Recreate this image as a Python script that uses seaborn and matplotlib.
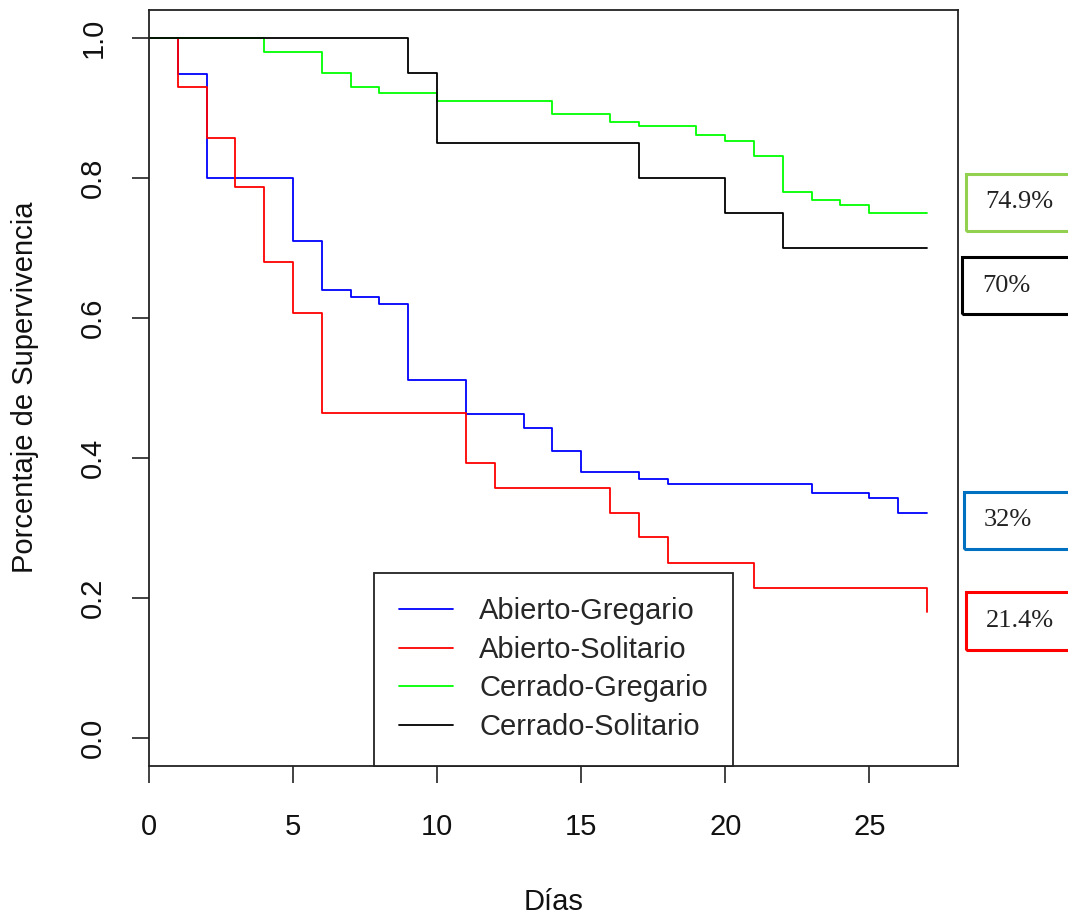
import matplotlib
matplotlib.use('Agg')
import matplotlib.pyplot as plt
from matplotlib.lines import Line2D
from matplotlib.patches import Rectangle
import seaborn as sns
import pandas as pd

# ---------------- data ----------------
grupos = ['Abierto-Gregario', 'Abierto-Solitario', 'Cerrado-Gregario', 'Cerrado-Solitario']
colores = ['#0000FF', '#FF0000', '#00FF00', '#000000']

ag_dias = [0, 1, 2, 5, 6, 7, 8, 9, 11, 13, 14, 15, 17, 18, 23, 25, 26, 27]
ag_surv = [1.0, 0.948, 0.800, 0.710, 0.639, 0.630, 0.619, 0.511, 0.462, 0.442,
           0.410, 0.380, 0.369, 0.362, 0.350, 0.342, 0.321, 0.321]

as_dias = [0, 1, 2, 3, 4, 5, 6, 11, 12, 16, 17, 18, 21, 27]
as_surv = [1.0, 0.929, 0.857, 0.786, 0.679, 0.607, 0.464, 0.393, 0.357, 0.321,
           0.286, 0.250, 0.214, 0.180]

cg_dias = [0, 4, 6, 7, 8, 10, 14, 16, 17, 19, 20, 21, 22, 23, 24, 25, 27]
cg_surv = [1.0, 0.980, 0.949, 0.930, 0.921, 0.910, 0.891, 0.879, 0.873, 0.861,
           0.852, 0.831, 0.779, 0.768, 0.761, 0.749, 0.749]

cs_dias = [0, 9, 10, 17, 20, 22, 27]
cs_surv = [1.0, 0.95, 0.85, 0.80, 0.75, 0.70, 0.70]

x_ticks = [0, 5, 10, 15, 20, 25]
y_ticks = [0.0, 0.2, 0.4, 0.6, 0.8, 1.0]
y_tick_labels = ['0.0', '0.2', '0.4', '0.6', '0.8', '1.0']

etiquetas = ['74.9%', '70%', '32%', '21.4%']
etiqueta_colores = ['#92D050', '#000000', '#0070C0', '#FF0000']

# ---------------- table ----------------
rows = []
for g, d, s in zip(grupos, [ag_dias, as_dias, cg_dias, cs_dias],
                   [ag_surv, as_surv, cg_surv, cs_surv]):
    for x, y in zip(d, s):
        rows.append((g, x, y))
df = pd.DataFrame(rows, columns=['grupo', 'dia', 'surv'])

sns.set_style('white')
plt.rcParams['font.family'] = ['Liberation Sans', 'DejaVu Sans']

W, H = 1068, 917
fig = plt.figure(figsize=(W / 100, H / 100), dpi=100)
L, R, T, B = 149, 958, 9.5, 765.7
ax = fig.add_axes([L / W, 1 - B / H, (R - L) / W, (B - T) / H])

sns.lineplot(data=df, x='dia', y='surv', hue='grupo', hue_order=grupos,
             palette=dict(zip(grupos, colores)), estimator=None, sort=False,
             drawstyle='steps-post', linewidth=1.3, ax=ax, legend=False)

ax.set_xlim(0, 28.08)
ax.set_ylim(-0.04, 1.04)
ax.set_xticks(x_ticks)
ax.set_xticklabels([str(t) for t in x_ticks])
ax.set_yticks(y_ticks)
ax.set_yticklabels(y_tick_labels, rotation=90, va='center')

for sp in ax.spines.values():
    sp.set_visible(True)
    sp.set_color('#222222')
    sp.set_linewidth(1.3)

ax.tick_params(axis='both', bottom=True, left=True, top=False, right=False,
               direction='out', length=12, width=1.2,
               color='#222222', labelsize=21, labelcolor='#111111')
ax.tick_params(axis='x', pad=22)
ax.tick_params(axis='y', pad=18)

ax.set_xlabel('Días', fontsize=21, color='#111111')
ax.set_ylabel('Porcentaje de Supervivencia', fontsize=21, color='#111111')
ax.xaxis.set_label_coords(0.5, (B - 902) / (B - T))
ax.xaxis.label.set_va('center')
ax.yaxis.set_label_coords((25 - L) / (R - L), 0.5)
ax.yaxis.label.set_va('center')

handles = [Line2D([0], [0], color=c, lw=1.3) for c in colores]
leg = ax.legend(handles, grupos, loc='lower center', bbox_to_anchor=(0.5, 0),
                bbox_transform=ax.transAxes, borderaxespad=0, fontsize=21,
                handlelength=1.85, handletextpad=0.9, borderpad=0.85,
                labelspacing=0.36, frameon=True, fancybox=False,
                edgecolor='#222222', framealpha=1, facecolor='white')
leg.get_frame().set_linewidth(1.3)

# ---------------- side boxes ----------------
cajas = [(965.7, 174, 230.7), (962.3, 256.7, 314.3), (964, 491.7, 549.3), (965.7, 592.3, 650)]
for (x0, top, bot), txt, col in zip(cajas, etiquetas, etiqueta_colores):
    rect = Rectangle((x0 / W, 1 - bot / H), (W + 20 - x0) / W, (bot - top) / H,
                     transform=fig.transFigure, fill=False, edgecolor=col,
                     linewidth=2.2, clip_on=False)
    fig.patches.append(rect)
    fig.text((x0 + 20) / W, 1 - ((top + bot) / 2) / H, txt, ha='left', va='center',
             fontsize=19, family=['Liberation Serif', 'DejaVu Serif'], color='#222222')

fig.savefig('out.png', dpi=100)
